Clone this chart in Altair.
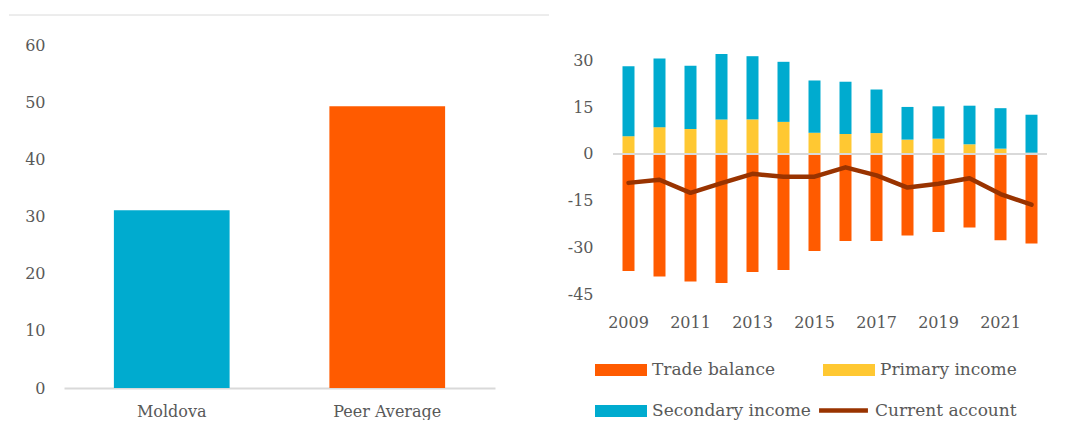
import altair as alt
import pandas as pd

# Left panel data
countries = ["Moldova", "Peer Average"]
country_values = [31.1, 49.3]

# Right panel data
years = ["2009", "2010", "2011", "2012", "2013", "2014", "2015",
         "2016", "2017", "2018", "2019", "2020", "2021", "2022"]
trade_balance = [-37.6, -39.4, -41.0, -41.5, -37.9, -37.3, -31.2,
                 -28.0, -28.0, -26.2, -25.1, -23.6, -27.7, -28.8]
primary_income = [5.7, 8.6, 8.0, 11.1, 11.1, 10.3, 6.8,
                  6.4, 6.7, 4.6, 4.9, 3.1, 1.7, 0.4]
secondary_income = [22.5, 22.1, 20.3, 21.0, 20.3, 19.3, 16.8,
                    16.8, 14.0, 10.5, 10.4, 12.4, 13.0, 12.2]
current_account = [-9.3, -8.3, -12.5, -9.4, -6.4, -7.3, -7.3,
                   -4.3, -6.9, -10.8, -9.6, -7.8, -12.9, -16.3]

bar_series = ["Trade balance", "Primary income", "Secondary income"]
bar_colors = ["#FF5B00", "#FFC832", "#00ABCF"]
line_series = ["Current account"]
line_colors = ["#993300"]

FONT = "DejaVu Serif"
TXT = "#595959"

# ---------- Left chart ----------
left_df = pd.DataFrame({"country": countries, "value": country_values})

left_bars = alt.Chart(left_df).mark_bar().encode(
    x=alt.X("country:N", sort=countries, title=None,
            scale=alt.Scale(paddingInner=0.463, paddingOuter=0.2315),
            axis=alt.Axis(labelAngle=0, ticks=False, domain=True, domainColor="#D9D9D9",
                          domainWidth=2, labelPadding=15, labelFontSize=16,
                          labelFont=FONT, labelColor=TXT)),
    y=alt.Y("value:Q", title=None,
            scale=alt.Scale(domain=[0, 60], nice=False),
            axis=alt.Axis(values=[0, 10, 20, 30, 40, 50, 60], ticks=False, domain=False,
                          grid=False, labelPadding=19, labelFontSize=16,
                          labelFont=FONT, labelColor=TXT)),
    color=alt.Color("country:N", legend=None,
                    scale=alt.Scale(domain=countries, range=["#00ABCF", "#FF5B00"])),
)

top_line = alt.Chart(left_df).mark_rule(color="#E6E6E6", strokeWidth=1).encode(
    x=alt.value(-55), x2=alt.value(485), y=alt.value(-30)
)

left = alt.layer(left_bars, top_line).properties(width=431, height=343)

# ---------- Right chart ----------
rows = []
for i, yr in enumerate(years):
    rows.append({"year": yr, "series": "Trade balance", "value": trade_balance[i], "ord": 0})
    rows.append({"year": yr, "series": "Primary income", "value": primary_income[i], "ord": 1})
    rows.append({"year": yr, "series": "Secondary income", "value": secondary_income[i], "ord": 2})
bar_df = pd.DataFrame(rows)
line_df = pd.DataFrame({"year": years, "series": "Current account", "value": current_account})

bar_legend = alt.Legend(
    title=None, orient="none", legendX=-18, legendY=299, columns=2, direction="horizontal",
    symbolType="M-1,-0.23H1V0.23H-1Z", symbolSize=2704, symbolStrokeWidth=0,
    labelFont=FONT, labelFontSize=17, labelColor=TXT, labelOffset=5,
    rowPadding=7, columnPadding=12, labelLimit=300,
)
line_legend = alt.Legend(
    title=None, orient="none", legendX=202, legendY=337,
    symbolType="M-0.94,0H0.94", symbolSize=2704, symbolStrokeWidth=4.5,
    labelFont=FONT, labelFontSize=17, labelColor=TXT, labelOffset=3, labelLimit=300,
)

x_enc = alt.X("year:N", sort=years, title=None,
              scale=alt.Scale(paddingInner=0.613, paddingOuter=0.3065),
              axis=alt.Axis(labelAngle=0, ticks=False, domain=False, labelPadding=20,
                            labelFontSize=16, labelFont=FONT, labelColor=TXT,
                            labelExpr="toNumber(datum.value) % 2 == 1 ? datum.label : ''"))
y_scale = alt.Scale(domain=[-45, 35], nice=False)
y_axis = alt.Axis(values=[-45, -30, -15, 0, 15, 30], ticks=False, domain=False, grid=False,
                  labelPadding=20, labelFontSize=16, labelFont=FONT, labelColor=TXT,
                  labelExpr="replace(datum.label, '\u2212', '-')")

bars = alt.Chart(bar_df).mark_bar().encode(
    x=x_enc,
    y=alt.Y("value:Q", stack="zero", title=None, scale=y_scale, axis=y_axis),
    color=alt.Color("series:N", scale=alt.Scale(domain=bar_series, range=bar_colors),
                    legend=bar_legend),
    order=alt.Order("ord:Q"),
)

zero_line = alt.Chart(pd.DataFrame({"z": [0]})).mark_rule(color="#D9D9D9", strokeWidth=2).encode(
    y=alt.Y("z:Q", scale=y_scale)
)

line = alt.Chart(line_df).mark_line(strokeWidth=4.5, strokeCap="round", strokeJoin="round").encode(
    x=alt.X("year:N", sort=years),
    y=alt.Y("value:Q", scale=y_scale),
    stroke=alt.Stroke("series:N", scale=alt.Scale(domain=line_series, range=line_colors),
                      legend=line_legend),
)

right = alt.layer(bars, zero_line, line).properties(width=434, height=249)

chart = alt.hconcat(left, right, spacing=17).resolve_scale(
    color="independent", stroke="independent", x="independent", y="independent"
).resolve_legend(color="independent", stroke="independent").properties(
    padding={"left": 0, "top": 6, "right": 0, "bottom": 0}
).configure_view(stroke=None)

chart.save("out.html", embed_options={"renderer": "svg", "actions": False})
